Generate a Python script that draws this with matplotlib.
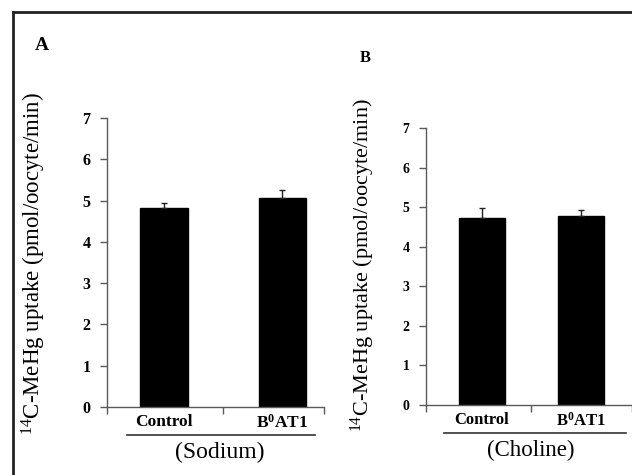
import numpy as np
import matplotlib
matplotlib.use("Agg")
import matplotlib.pyplot as plt
from matplotlib.lines import Line2D

plt.rcParams['font.family'] = ['Liberation Serif', 'DejaVu Serif']
plt.rcParams['mathtext.fontset'] = 'custom'
plt.rcParams['mathtext.rm'] = 'Liberation Serif'
plt.rcParams['mathtext.bf'] = 'Liberation Serif:bold'
plt.rcParams['mathtext.it'] = 'Liberation Serif:italic'

# data
groups = ["Control", r"B$^\mathbf{0}$AT1"]
sodium = [4.82, 5.07]
sodium_err = [0.12, 0.18]
choline = [4.72, 4.78]
choline_err = [0.25, 0.15]
yticks = [0, 1, 2, 3, 4, 5, 6, 7]

W, H = 632, 475
fig = plt.figure(figsize=(6.32, 4.75), dpi=100)

def box(l, r, b, t):
    return [l / W, 1 - b / H, (r - l) / W, (b - t) / H]

axc = "#5a5a5a"

def panel(rect, vals, errs, xlim, width, letter, letter_xy, ylab_x, cond, line_x, cond_x,
          fs_tick, fs_cat, fs_cond, fs_lab, fs_letter):
    ax = fig.add_axes(box(*rect))
    x = np.arange(len(groups))
    ax.bar(x, vals, width=width, color="black", edgecolor="black")
    ax.errorbar(x, vals, yerr=[np.zeros(len(errs)), errs], fmt="none",
                ecolor="#222222", elinewidth=1, capsize=2)
    ax.set_xlim(*xlim)
    ax.set_ylim(0, 7)
    ax.set_yticks(yticks)
    ax.set_yticklabels([str(v) for v in yticks], fontweight="bold", fontsize=fs_tick)
    ax.set_xticks([xlim[0], 0.5, xlim[1]])
    ax.set_xticklabels([])
    for s in ["top", "right"]:
        ax.spines[s].set_visible(False)
    for s in ["left", "bottom"]:
        ax.spines[s].set_color(axc)
        ax.spines[s].set_linewidth(1.0)
    ax.tick_params(axis="y", direction="out", length=5, pad=7, color=axc, width=1)
    ax.tick_params(axis="x", direction="out", length=5, color=axc, width=1)
    for xi, g in zip(x, groups):
        ax.text(xi, -0.17, g, ha="center", va="top", fontsize=fs_cat, fontweight="bold")
    # underline and condition label
    fig.add_artist(Line2D([line_x[0] / W, line_x[1] / W], [1 - line_x[2] / H] * 2,
                          color="#333333", lw=1.2))
    fig.text(cond_x[0] / W, 1 - cond_x[1] / H, cond, ha="center", va="center", fontsize=fs_cond)
    fig.text(letter_xy[0] / W, 1 - letter_xy[1] / H, letter, ha="center", va="center",
             fontsize=fs_letter, fontweight="bold")
    fig.text(ylab_x[0] / W, 1 - ylab_x[1] / H, r"$^{14}$C-MeHg uptake (pmol/oocyte/min)",
             rotation=90, ha="center", va="center", fontsize=fs_lab)
    return ax

panel((107, 324, 407, 118), sodium, sodium_err, (-0.48, 1.35), 0.4,
      "A", (42, 45), (34, 263), "(Sodium)", (127, 315, 435), (220, 452),
      11.5, 12.5, 17, 16.5, 14)
panel((426, 632, 405, 128), choline, choline_err, (-0.56, 1.51), 0.46,
      "B", (365, 58), (363, 265), "(Choline)", (444, 626, 433), (531, 450),
      10, 12, 16.5, 16, 12)

# outer frame (top and left)
fig.add_artist(Line2D([13 / W, 1.0], [1 - 12 / H] * 2, color="#222222", lw=2))
fig.add_artist(Line2D([13 / W, 13 / W], [1 - 12 / H, 0], color="#222222", lw=2))

fig.savefig("out.png", dpi=100)
